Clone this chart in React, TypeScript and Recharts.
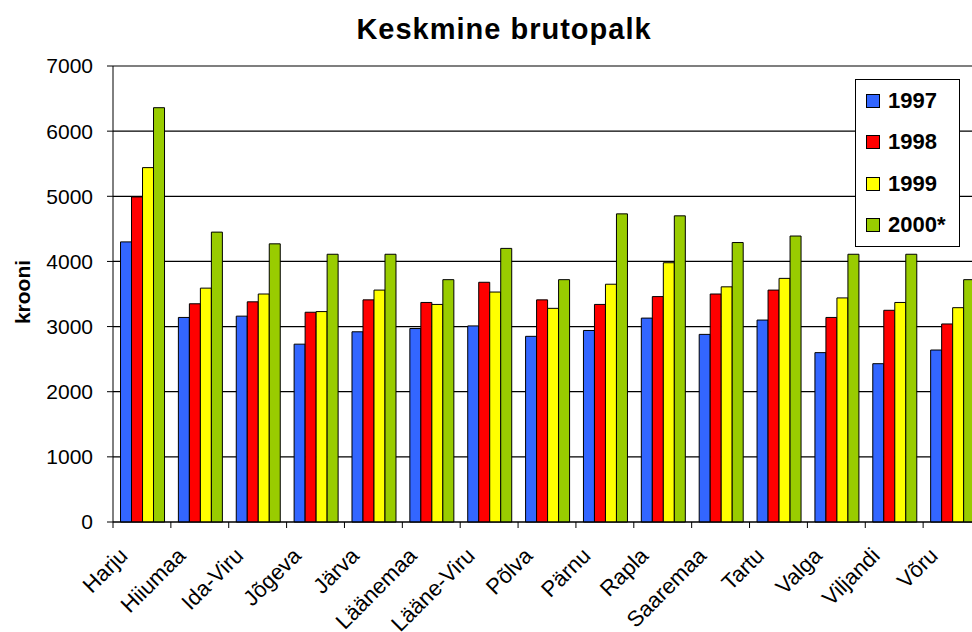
import React from "react";
import { BarChart, Bar, CartesianGrid, XAxis, YAxis, Legend } from "recharts";

// ─── Data ─────────────────────────────────────────────────────────────────────

const categories = [
  "Harju",
  "Hiiumaa",
  "Ida-Viru",
  "Jõgeva",
  "Järva",
  "Läänemaa",
  "Lääne-Viru",
  "Põlva",
  "Pärnu",
  "Rapla",
  "Saaremaa",
  "Tartu",
  "Valga",
  "Viljandi",
  "Võru",
];

const v1997 = [4300, 3140, 3160, 2730, 2920, 2970, 3010, 2850, 2940, 3130, 2880, 3100, 2600, 2430, 2640];
const v1998 = [4990, 3350, 3380, 3220, 3410, 3370, 3680, 3410, 3340, 3460, 3500, 3560, 3140, 3250, 3040];
const v1999 = [5440, 3590, 3500, 3230, 3560, 3340, 3530, 3280, 3650, 3980, 3610, 3740, 3440, 3370, 3290];
const v2000 = [6360, 4450, 4270, 4110, 4110, 3720, 4200, 3720, 4730, 4700, 4290, 4390, 4110, 4110, 3720];

const yTicks = [0, 1000, 2000, 3000, 4000, 5000, 6000, 7000];

const series = [
  { key: "y1997", name: "1997", color: "#3366ff" },
  { key: "y1998", name: "1998", color: "#ff0000" },
  { key: "y1999", name: "1999", color: "#ffff00" },
  { key: "y2000", name: "2000*", color: "#99cc00" },
];

const data = categories.map((name, i) => ({
  name,
  y1997: v1997[i],
  y1998: v1998[i],
  y1999: v1999[i],
  y2000: v2000[i],
}));

const FONT = 'Arial, "Liberation Sans", sans-serif';

// ─── Axis tick: mark on the category boundary, rotated label ──────────────────

function CategoryTick(props: any) {
  const { x, y, payload } = props;
  const half = payload && typeof payload.offset === "number" ? payload.offset : 28.9;
  const lx = x - 13;
  const ly = y + 29;
  return (
    <g>
      <line x1={x - half} x2={x - half} y1={y - 6} y2={y} stroke="#000" strokeWidth={1} />
      <text
        x={lx}
        y={ly}
        transform={`rotate(-45 ${lx} ${ly})`}
        textAnchor="end"
        fontSize={22}
        fontFamily={FONT}
        fill="#000"
      >
        {payload.value}
      </text>
    </g>
  );
}

// ─── Legend box ───────────────────────────────────────────────────────────────

function LegendBox() {
  return (
    <div
      style={{
        boxSizing: "border-box",
        width: 105,
        height: 168,
        border: "1px solid #000",
        background: "#fff",
        fontFamily: FONT,
      }}
    >
      {series.map((s) => (
        <div
          key={s.key}
          style={{ display: "flex", alignItems: "center", height: 41.5, paddingLeft: 10 }}
        >
          <span
            style={{
              display: "inline-block",
              boxSizing: "border-box",
              width: 14,
              height: 14,
              border: "1px solid #000",
              background: s.color,
              marginRight: 8,
            }}
          />
          <span style={{ fontSize: 22, fontWeight: "bold", color: "#000" }}>{s.name}</span>
        </div>
      ))}
    </div>
  );
}

// ─── Chart ────────────────────────────────────────────────────────────────────

export default function App() {
  return (
    <div
      style={{
        position: "fixed",
        left: 0,
        top: 0,
        width: 972,
        height: 632,
        overflow: "hidden",
        background: "#fff",
      }}
    >
      <BarChart
        width={1000}
        height={632}
        data={data}
        margin={{ top: 66, right: 19, left: 0, bottom: 0 }}
        barCategoryGap="13%"
        barGap={0}
      >
        <CartesianGrid vertical={false} stroke="#000" strokeOpacity={1} strokeWidth={1.2} />
        <XAxis
          dataKey="name"
          height={110}
          interval={0}
          tickLine={false}
          tickSize={6}
          tickMargin={0}
          axisLine={{ stroke: "#000" }}
          tick={<CategoryTick />}
        />
        <YAxis
          width={113}
          domain={[0, 7000]}
          ticks={yTicks}
          interval={0}
          tickSize={6}
          tickMargin={14}
          axisLine={{ stroke: "#000" }}
          tickLine={{ stroke: "#000" }}
          tick={{ fontSize: 21, fill: "#000", fontFamily: FONT }}
        />
        <Legend
          layout="vertical"
          align="center"
          verticalAlign="middle"
          content={() => <LegendBox />}
          wrapperStyle={{ left: 855, top: 79, width: 105, height: 168 }}
        />
        {series.map((s) => (
          <Bar
            key={s.key}
            dataKey={s.key}
            name={s.name}
            fill={s.color}
            stroke="#000"
            strokeWidth={1}
            isAnimationActive={false}
          />
        ))}
      </BarChart>

      {/* Title and value-axis caption */}
      <svg
        width={972}
        height={632}
        style={{ position: "absolute", left: 0, top: 0, pointerEvents: "none" }}
      >
        <text
          x={504}
          y={39}
          textAnchor="middle"
          fontSize={29}
          fontWeight="bold"
          letterSpacing={1}
          fontFamily={FONT}
          fill="#000"
        >
          Keskmine brutopalk
        </text>
        <text
          x={30}
          y={292}
          transform="rotate(-90 30 292)"
          textAnchor="middle"
          fontSize={21}
          fontWeight="bold"
          fontFamily={FONT}
          fill="#000"
        >
          krooni
        </text>
      </svg>
    </div>
  );
}
